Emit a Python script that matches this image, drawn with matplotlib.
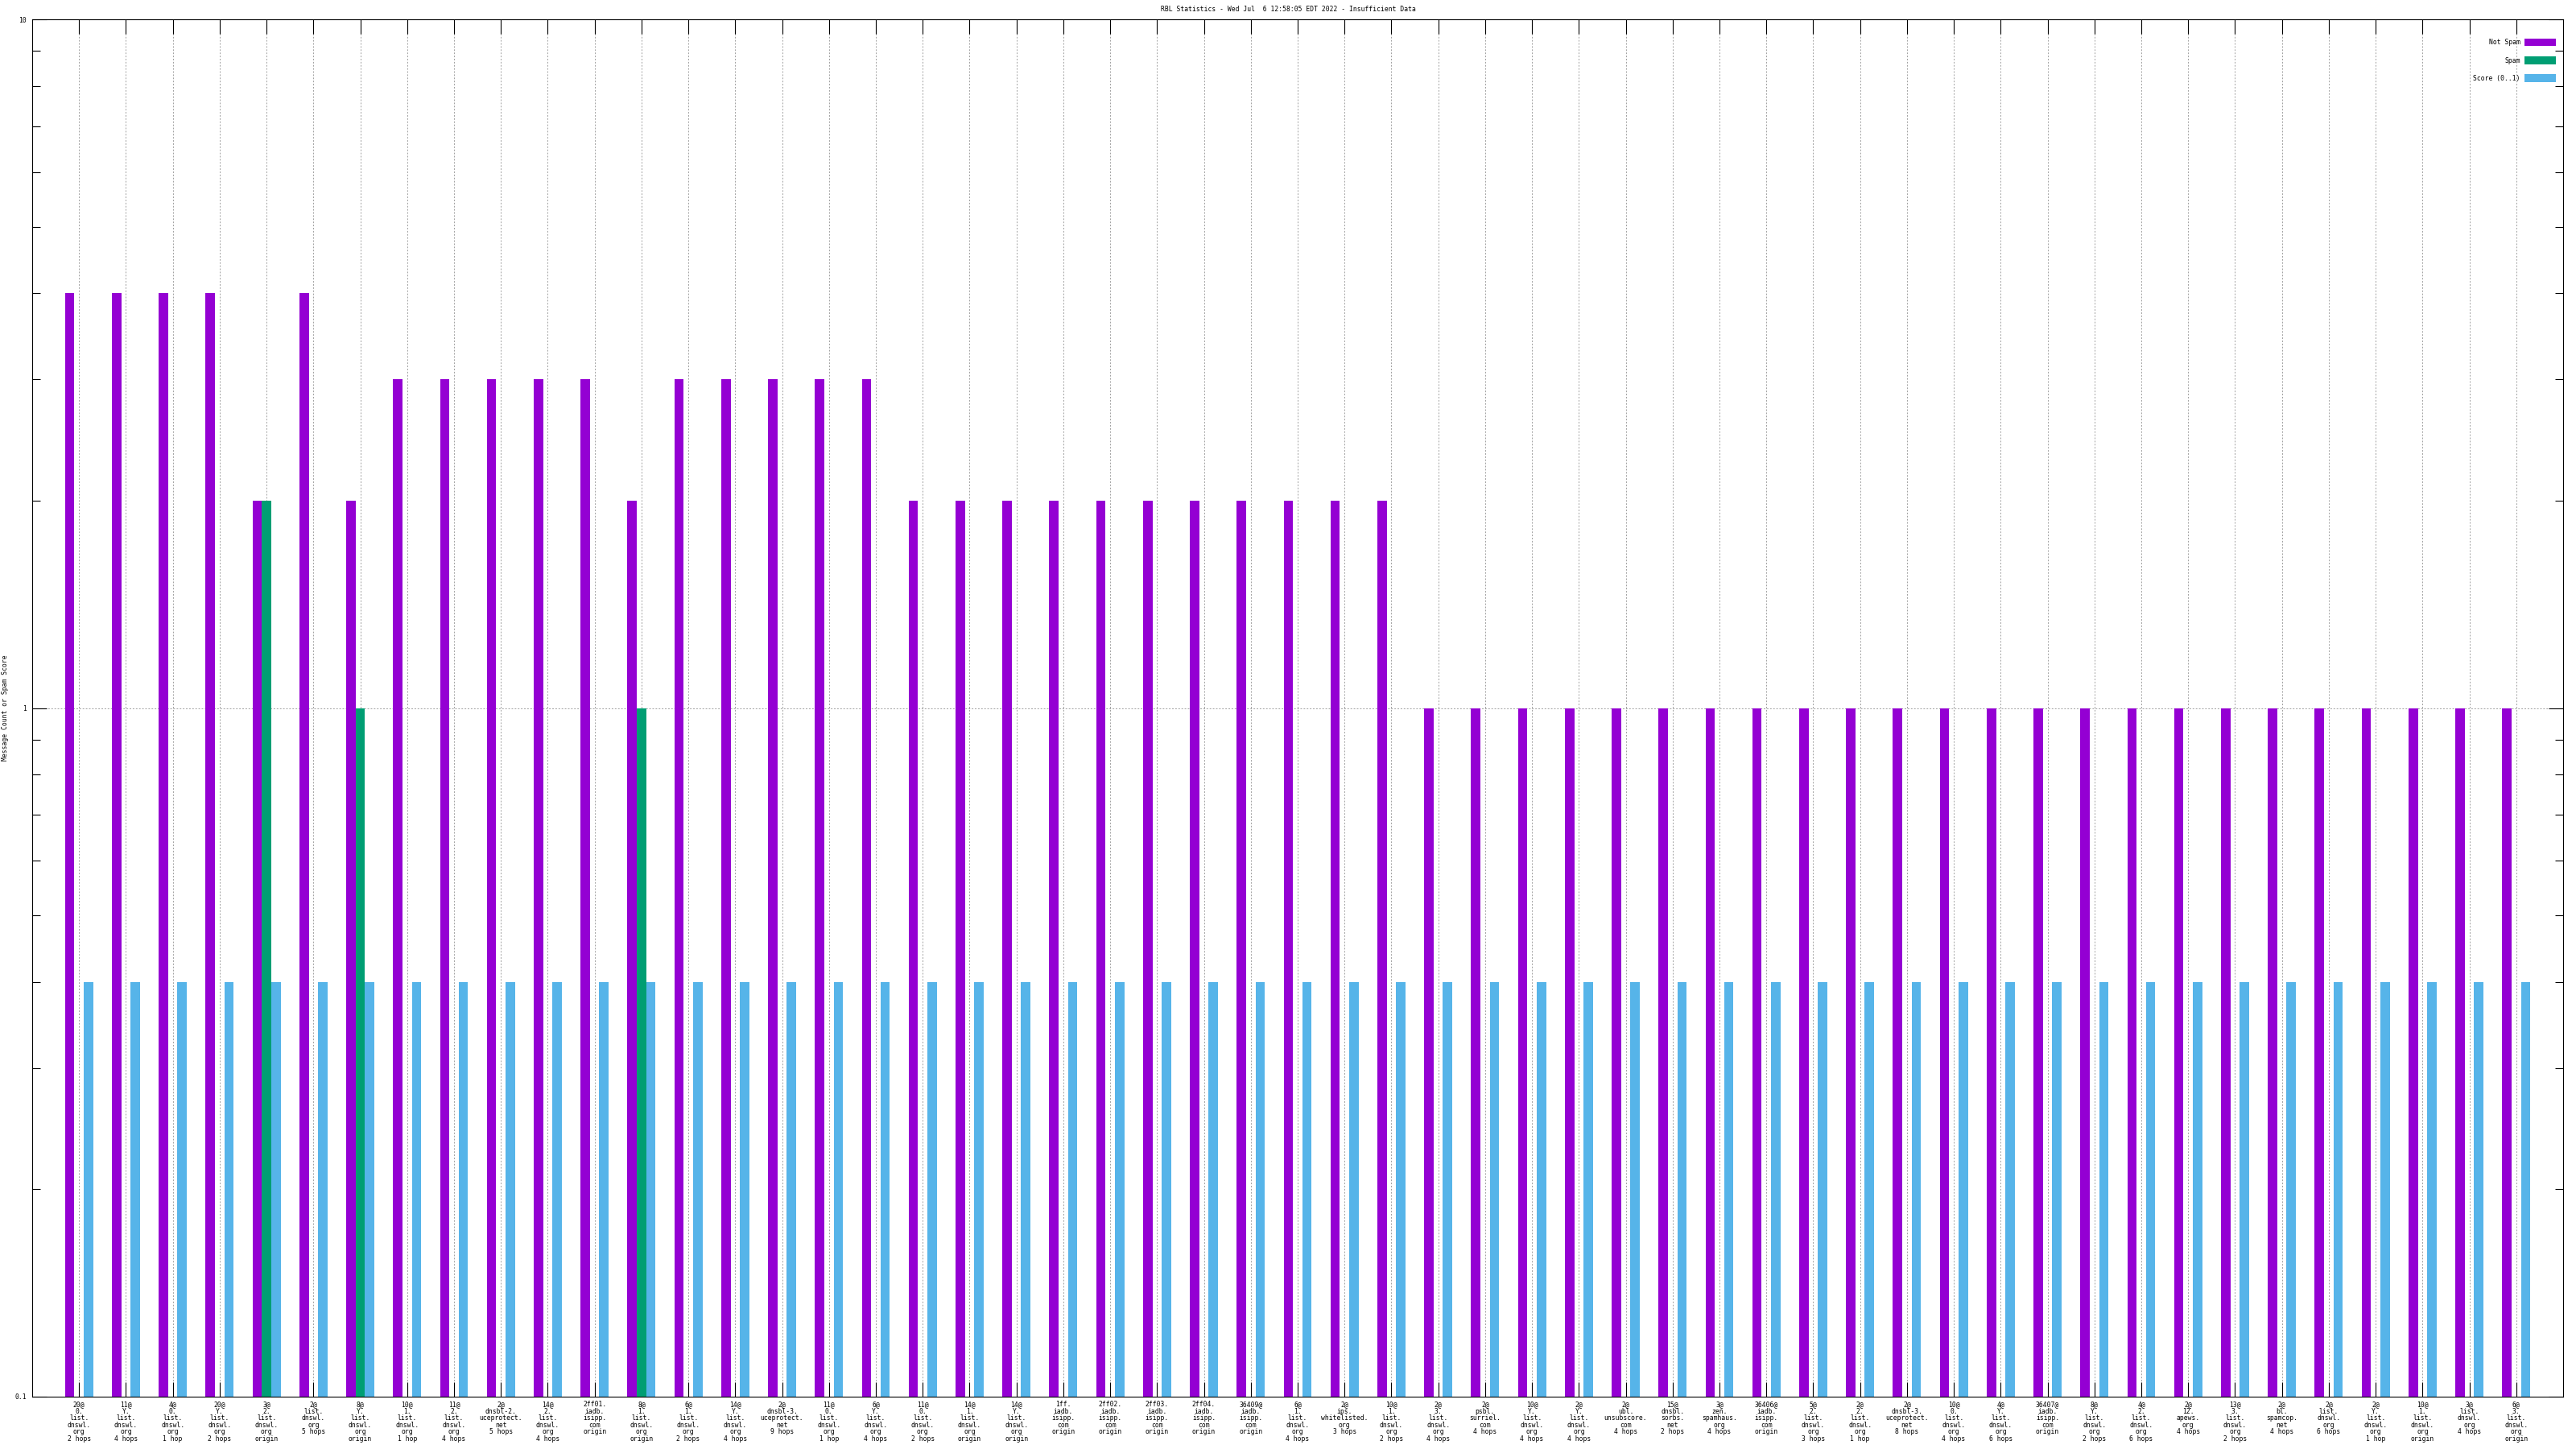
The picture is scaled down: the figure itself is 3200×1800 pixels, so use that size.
#RBL Statistics: message counts and spam score per RBL lookup, log scale

import numpy as np
import matplotlib
matplotlib.use('Agg')
import matplotlib.pyplot as plt
from matplotlib.ticker import LogLocator, NullFormatter, FixedLocator

title = 'RBL Statistics - Wed Jul  6 12:58:05 EDT 2022 - Insufficient Data'

labels = [
    '20@\n0.\nlist.\ndnswl.\norg\n2 hops',
    '11@\nY.\nlist.\ndnswl.\norg\n4 hops',
    '4@\n0.\nlist.\ndnswl.\norg\n1 hop',
    '20@\nY.\nlist.\ndnswl.\norg\n2 hops',
    '3@\n2.\nlist.\ndnswl.\norg\norigin',
    '2@\nlist.\ndnswl.\norg\n5 hops',
    '8@\nY.\nlist.\ndnswl.\norg\norigin',
    '10@\n1.\nlist.\ndnswl.\norg\n1 hop',
    '11@\n2.\nlist.\ndnswl.\norg\n4 hops',
    '2@\ndnsbl-2.\nuceprotect.\nnet\n5 hops',
    '14@\n2.\nlist.\ndnswl.\norg\n4 hops',
    '2ff01.\niadb.\nisipp.\ncom\norigin',
    '8@\n1.\nlist.\ndnswl.\norg\norigin',
    '6@\n1.\nlist.\ndnswl.\norg\n2 hops',
    '14@\nY.\nlist.\ndnswl.\norg\n4 hops',
    '2@\ndnsbl-3.\nuceprotect.\nnet\n9 hops',
    '11@\n0.\nlist.\ndnswl.\norg\n1 hop',
    '6@\nY.\nlist.\ndnswl.\norg\n4 hops',
    '11@\n0.\nlist.\ndnswl.\norg\n2 hops',
    '14@\n1.\nlist.\ndnswl.\norg\norigin',
    '14@\nY.\nlist.\ndnswl.\norg\norigin',
    '1ff.\niadb.\nisipp.\ncom\norigin',
    '2ff02.\niadb.\nisipp.\ncom\norigin',
    '2ff03.\niadb.\nisipp.\ncom\norigin',
    '2ff04.\niadb.\nisipp.\ncom\norigin',
    '36409@\niadb.\nisipp.\ncom\norigin',
    '6@\n1.\nlist.\ndnswl.\norg\n4 hops',
    '2@\nips.\nwhitelisted.\norg\n3 hops',
    '10@\n1.\nlist.\ndnswl.\norg\n2 hops',
    '2@\n3.\nlist.\ndnswl.\norg\n4 hops',
    '2@\npsbl.\nsurriel.\ncom\n4 hops',
    '10@\nY.\nlist.\ndnswl.\norg\n4 hops',
    '2@\nY.\nlist.\ndnswl.\norg\n4 hops',
    '2@\nubl.\nunsubscore.\ncom\n4 hops',
    '15@\ndnsbl.\nsorbs.\nnet\n2 hops',
    '3@\nzen.\nspamhaus.\norg\n4 hops',
    '36406@\niadb.\nisipp.\ncom\norigin',
    '5@\n2.\nlist.\ndnswl.\norg\n3 hops',
    '2@\n2.\nlist.\ndnswl.\norg\n1 hop',
    '2@\ndnsbl-3.\nuceprotect.\nnet\n8 hops',
    '10@\n0.\nlist.\ndnswl.\norg\n4 hops',
    '4@\nY.\nlist.\ndnswl.\norg\n6 hops',
    '36407@\niadb.\nisipp.\ncom\norigin',
    '8@\nY.\nlist.\ndnswl.\norg\n2 hops',
    '4@\n2.\nlist.\ndnswl.\norg\n6 hops',
    '2@\n12.\napews.\norg\n4 hops',
    '13@\n3.\nlist.\ndnswl.\norg\n2 hops',
    '2@\nbl.\nspamcop.\nnet\n4 hops',
    '2@\nlist.\ndnswl.\norg\n6 hops',
    '2@\nY.\nlist.\ndnswl.\norg\n1 hop',
    '10@\n1.\nlist.\ndnswl.\norg\norigin',
    '3@\nlist.\ndnswl.\norg\n4 hops',
    '6@\n3.\nlist.\ndnswl.\norg\norigin',
]

not_spam = [4, 4, 4, 4, 2, 4, 2, 3, 3, 3, 3, 3, 2, 3, 3, 3, 3, 3,
            2, 2, 2, 2, 2, 2, 2, 2, 2, 2, 2,
            1, 1, 1, 1, 1, 1, 1, 1, 1, 1, 1, 1, 1, 1, 1, 1, 1, 1, 1, 1, 1, 1, 1, 1]
spam = [0, 0, 0, 0, 2, 0, 1, 0, 0, 0, 0, 0, 1, 0, 0, 0, 0, 0,
        0, 0, 0, 0, 0, 0, 0, 0, 0, 0, 0,
        0, 0, 0, 0, 0, 0, 0, 0, 0, 0, 0, 0, 0, 0, 0, 0, 0, 0, 0, 0, 0, 0, 0, 0]
score = [0.4] * 53

colors = ['#9400D3', '#009E73', '#56B4E9']
series_names = ['Not Spam', 'Spam', 'Score (0..1)']

plt.rcParams['font.family'] = ['DejaVu Sans Mono']
plt.rcParams['font.size'] = 5.8

fig = plt.figure(figsize=(32, 18), dpi=100)
ax = fig.add_axes([40 / 3200, 1 - 1735 / 1800, 3144 / 3200, 1711 / 1800])

x = np.arange(len(labels))
w = 0.2
series = [np.array(not_spam, float), np.array(spam, float), np.array(score, float)]
for i, (vals, c, name) in enumerate(zip(series, colors, series_names)):
    keep = vals > 0  # zero can't be shown on the log axis
    ax.bar(x[keep] + (i - 1) * w, vals[keep], width=w, color=c, label=name,
           linewidth=0, zorder=2)

ax.set_yscale('log')
ax.set_ylim(0.1, 10)
ax.set_xlim(-1, len(labels))

ax.yaxis.set_major_locator(FixedLocator([0.1, 1, 10]))
ax.set_yticklabels(['0.1', '1', '10'])
ax.yaxis.set_minor_locator(LogLocator(base=10, subs=np.arange(2, 10)))
ax.yaxis.set_minor_formatter(NullFormatter())

ax.set_xticks(x)
ax.set_xticklabels(labels, linespacing=0.95, va='top')
ax.tick_params(axis='x', which='major', direction='in', length=13, width=0.8,
               top=True, pad=3.5)
ax.tick_params(axis='y', which='major', direction='in', length=13, width=0.8,
               right=True, pad=5)
ax.tick_params(axis='y', which='minor', direction='in', length=7, width=0.8,
               right=True)

ax.grid(True, which='major', axis='both', color='#a0a0a0', linestyle=(0, (2, 2)),
        linewidth=0.7, zorder=0)
ax.set_axisbelow(True)
for s in ax.spines.values():
    s.set_linewidth(0.8)

ax.set_ylabel('Message Count or Spam Score')
ax.yaxis.set_label_coords(-0.0092, 0.5)

leg = ax.legend(loc='upper right', bbox_to_anchor=(1 - 9 / 3144, 1 - 24 / 1711),
                frameon=False, markerfirst=False, borderaxespad=0, borderpad=0,
                handlelength=4.9, handleheight=1.4, labelspacing=1.6,
                handletextpad=0.6)

fig.text(0.5, 1 - 12 / 1800, title, ha='center', va='center')

fig.savefig('out.png', dpi=100)
plt.close(fig)
